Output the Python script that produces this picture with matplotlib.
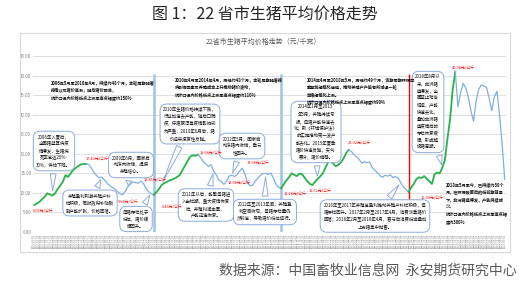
import numpy as np
import pandas as pd
import matplotlib
matplotlib.use("Agg")
import matplotlib.pyplot as plt
from matplotlib.patches import Rectangle

plt.rcParams['font.family'] = ['Noto Sans CJK SC', 'DejaVu Sans']

# ── DATA ─────────────────────────────────────────────────────
# 22省市生猪月均价（元/千克），2006-05 起
price = [
    6.9, 7.3, 7.7, 8.4, 9.0, 9.9, 9.6, 9.3, 9.9, 11.0,
    11.9, 12.9, 14.5, 14.1, 15.0, 15.9, 16.4, 16.9, 17.3, 17.4,
    17.4, 17.2, 16.3, 15.2, 14.4, 13.8, 14.0, 13.3, 12.5, 11.9,
    11.4, 11.0, 10.3, 9.8, 9.5, 10.4, 11.6, 12.3, 12.8, 12.6,
    12.5, 13.0, 12.4, 11.1, 10.3, 9.8, 9.5, 10.2, 11.0, 12.0,
    12.5, 12.8, 13.2, 13.4, 13.7, 14.1, 14.6, 15.8, 17.0, 18.2,
    19.3, 19.6, 19.5, 19.8, 19.0, 18.0, 17.4, 16.8, 17.2, 15.6,
    14.6, 13.4, 12.8, 12.2, 13.0, 14.3, 14.5, 14.2, 14.6, 15.6,
    16.3, 15.0, 12.6, 11.8, 12.0, 13.0, 13.8, 14.5, 14.9, 15.0,
    14.7, 15.1, 13.8, 12.2, 11.4, 11.2, 12.2, 13.2, 14.0, 15.0,
    14.6, 14.3, 14.9, 14.8, 13.9, 13.0, 12.3, 12.0, 12.8, 13.6,
    14.2, 15.0, 16.4, 17.8, 18.3, 17.5, 16.8, 17.2, 17.8, 18.8,
    20.2, 21.0, 20.6, 19.8, 19.2, 18.6, 17.6, 18.0, 17.7, 17.9,
    16.5, 15.8, 15.2, 14.4, 14.0, 14.5, 14.3, 14.6, 13.9, 14.2,
    13.8, 12.6, 11.5, 10.9, 10.3, 11.3, 12.3, 13.5, 14.0, 13.8,
    14.3, 13.6, 13.0, 12.3, 14.8, 15.2, 15.0, 16.5, 18.5, 24.0,
    29.0, 36.5, 41.0, 32.0, 35.5, 38.0, 36.8, 34.5, 31.0, 28.3,
    33.5, 36.5, 37.6, 37.3, 37.0, 34.3, 31.0, 34.5, 36.0, 30.0,
    22.5, 13.5,
]
months = pd.date_range("2006-05-01", periods=len(price), freq="MS")
tick_labels = [d.strftime("%Y-%m-%d") for d in months]

# 涨跌分段的拐点（月份序号）
turns = [0, 20, 46, 63, 95, 121, 144, 162, 181]
cycle_starts = [46, 95]      # 蓝色竖线
current_start = 144          # 红色竖线

price_labels = ["6.69元/公斤", "17.43元/公斤", "9.53元/公斤", "12.85元/公斤",
                "9.46元/公斤", "19.68元/公斤", "12.08元/公斤", "17.08元/公斤",
                "11.28元/公斤", "11.62元/公斤", "21.02元/公斤", "10.34元/公斤",
                "40.98元/公斤"]

GREEN = "#27b24a"
BLUE = "#7eb0e2"
BOX_EC = "#8faadc"
W, H = 530, 288


def fx(x):
    return x / W


def fy(y):
    return 1 - y / H


fig = plt.figure(figsize=(W / 100, H / 100), dpi=100)

fig.text(fx(265), fy(14), "图 1：22 省市生猪平均价格走势", ha="center", va="center",
         fontsize=11.5, color="#262626")
fig.patches.append(Rectangle((fx(20), fy(252)), (510 - 20) / W, (252 - 33) / H,
                             transform=fig.transFigure, fill=False,
                             ec="#d9d9d9", lw=0.8))
fig.text(fx(263), fy(42), "22省市生猪平均价格走势（元/千克）", ha="center",
         va="center", fontsize=5, color="#595959")
fig.text(fx(517), fy(271), "数据来源：中国畜牧业信息网  永安期货研究中心",
         ha="right", va="center", fontsize=10, color="#595959")

ax = fig.add_axes([fx(33), fy(232), (506 - 33) / W, 176 / H])
x = np.arange(len(price))
p = np.array(price)

for a, b in zip(turns[:-1], turns[1:]):
    up = p[b] > p[a]
    ax.plot(x[a:b + 1], p[a:b + 1], color=GREEN if up else BLUE,
            lw=1.3 if up else 0.9, zorder=3, solid_joinstyle="round")

ax.vlines(cycle_starts, 0, 40.5, color="#9dc3e6", lw=1.8, zorder=2)
ax.vlines(current_start, 0, 40.5, color="#ff0000", lw=1.0, zorder=2)

ax.set_xlim(-0.5, len(price) - 0.5)
ax.set_ylim(0, 45)
ax.set_yticks(np.arange(0, 46, 5))
ax.set_yticklabels([f"{v:.2f}" for v in np.arange(0, 46, 5)], fontsize=3.2,
                   color="#808080")
ax.set_xticks(x)
ax.set_xticklabels(tick_labels, rotation=90, fontsize=2.0, color="#8c8c8c")
ax.tick_params(length=0, pad=1.2)
ax.grid(axis="y", color="#d9d9d9", lw=0.6)
ax.set_axisbelow(True)
for s in ax.spines.values():
    s.set_visible(False)

# ── 周期说明（无框） ──
plain = [
    (51, 80, "2006年5月至2010年4月，持续约48个月，本轮周期随着\n"
             "疫情以及猪价高涨，随后猪价回落，\n"
             "统计口径内价格低点上涨至高点幅度约150%"),
    (175, 77, "2010年4月至2014年4月，历经约48个月，本轮周期随着疫\n"
              "病影响因素及养殖成本上升推动猪价波动，\n"
              "统计口径内价格低点上涨至高点幅度约110%"),
    (307, 77, "2014年4月至2018年5月，历经约49个月，该期周期环保因\n"
              "素叠加规模化进程，推动养殖户产能有所减退一轮\n"
              "生猪规模化上涨。\n"
              "统计口径内价格低点上涨至高点幅度约90%"),
    (446, 182, "2018年5月至今，已持续约30个\n"
               "月，在环保政策后的低谷期背景\n"
               "下，非洲猪瘟爆发，产能持续减\n"
               "少。\n"
               "统计口径内价格低点上涨至高点幅\n"
               "度约300%"),
]
for px, py, txt in plain:
    fig.text(fx(px), fy(py), txt, ha="left", va="top", fontsize=3.0,
             color="#111111", linespacing=1.6, fontweight="bold")

# ── 带框说明 ──
callouts = [
    (54, 151, (7, 9.8), "2006年入夏后，\n全国猪蓝耳病疫\n情爆发，生猪病\n死率高达20%-\n30%，供给下降。"),
    (90, 203, (26, 14.0), "养殖盈利刺激养殖户补\n栏积极，同时政府补贴鼓\n励产能扩张，价格回落。"),
    (131, 165, (36, 11.2), "2009年6月，国家启\n动冻肉收储，提振\n养殖信心。"),
    (136, 219, (45, 10.0), "母猪存栏处于\n低位，猪价缓\n慢回升。"),
    (190, 124, (49, 12.2), "2010年生猪价格持续下跌，\n行业加速去产能，随后口蹄\n疫、仔猪腹泻等疫情影响较\n为严重，2010年6月后，猪\n价迎来报复性反弹。"),
    (206, 205, (69, 15.6), "2011年以后，能繁母猪进\n入出栏期，重大疫情恢复\n后，养殖利润丰厚，\n产能迅速恢复。"),
    (242, 146, (76, 14.4), "2012年5月，国家启\n动冻猪肉收储，季节\n性回升。"),
    (265, 212, (89, 14.8), "2012年至2013年间，养殖盈\n利空间收窄，母猪存栏量仍\n然较高，导致猪价低位运行。"),
    (316, 132, (109, 13.6), "2014年1月至2015\n年3月，养殖持续亏\n损，母猪产能快速去\n化；新《环境保护法》\n的实施推动第一波产\n能去化。2015年夏季\n猪价快速反弹，天气\n寒冷，猪价偏强。"),
    (375, 216, (141, 12.6), "2016年至2017年养殖高盈利推动养殖户补栏积极，母\n猪存栏回升。2017年2月至2017年4月，消费淡季猪价\n回落；2018年2月至2018年4月，春节后消费低迷叠加\n上市猪集中抛售。"),
    (428, 112, (157, 16.5), "2018年8月以\n来，非洲猪\n瘟爆发，全\n国禁止跨省\n调运，产能\n快速去化，\n叠加非洲猪\n瘟疫情后的\n存栏恢复缓\n慢，形成超\n级猪周期。"),
]
for cx, cy, tip, txt in callouts:
    ax.annotate(txt, xy=tip, xycoords="data", xytext=(fx(cx), fy(cy)),
                textcoords="figure fraction", ha="center", va="center",
                fontsize=3.2, color="#111111", linespacing=1.5, zorder=6,
                annotation_clip=False,
                bbox=dict(boxstyle="round,pad=0.7,rounding_size=1.5",
                          fc="white", ec=BOX_EC, lw=0.7),
                arrowprops=dict(arrowstyle="wedge,tail_width=1.3,shrink_factor=0.5",
                                fc="white", ec=BOX_EC, lw=0.7))

# ── 价格标注 ──
label_pos = [(33, 211), (86, 159), (118, 202), (144, 180), (162, 207),
             (200, 153), (228, 183), (247, 163), (284, 194), (309, 191),
             (348, 143), (421, 198), (452, 68)]
for (px, py), lab in zip(label_pos, price_labels):
    fig.text(fx(px), fy(py), lab, ha="left", va="center", fontsize=2.8,
             color="#ff0000", zorder=7)

fig.savefig("out.png", dpi=100)
